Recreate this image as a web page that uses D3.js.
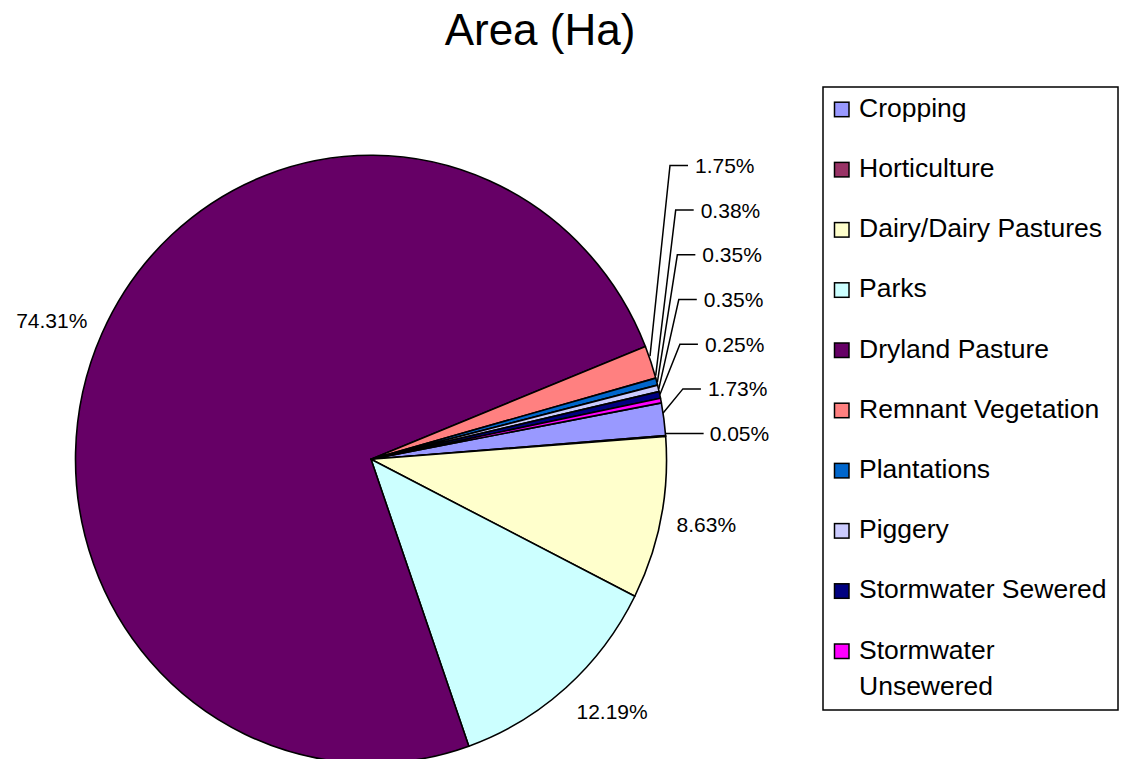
<!DOCTYPE html>
<html>
<head>
<meta charset="utf-8">
<script src="https://cdn.jsdelivr.net/npm/d3@7"></script>
<style>
  html, body { margin: 0; padding: 0; background: #fff; }
  svg { display: block; }
  text { font-family: "Liberation Sans", Arial, sans-serif; fill: #000; }
</style>
</head>
<body>
<svg id="chart" width="1128" height="759"></svg>
<script>
// ---- data ----
const title = "Area (Ha)";
const categories = ["Cropping", "Horticulture", "Dairy/Dairy Pastures", "Parks", "Dryland Pasture",
  "Remnant Vegetation", "Plantations", "Piggery", "Stormwater Sewered", "Stormwater Unsewered"];
const values = [1.73, 0.05, 8.63, 12.19, 74.31, 1.75, 0.38, 0.35, 0.35, 0.25];
const valueLabels = ["1.73%", "0.05%", "8.63%", "12.19%", "74.31%", "1.75%", "0.38%", "0.35%", "0.35%", "0.25%"];
const colors = ["#9999FF", "#993366", "#FFFFCC", "#CCFFFF", "#660066",
  "#FF8080", "#0066CC", "#CCCCFF", "#000080", "#FF00FF"];

// ---- layout ----
const W = 1128, H = 759;
const cx = 371, cy = 459.3, rx = 295.5, ry = 304;
const startDeg = 79.3;
const svg = d3.select("#chart");

svg.append("text")
  .attr("x", 540).attr("y", 45)
  .attr("text-anchor", "middle")
  .style("font-size", "44px")
  .text(title);

const pie = d3.pie().sort(null).value(d => d)
  .startAngle(startDeg * Math.PI / 180)
  .endAngle(startDeg * Math.PI / 180 + 2 * Math.PI);
const arcs = pie(values);
const arc = d3.arc().innerRadius(0).outerRadius(rx);

const pieG = svg.append("g")
  .attr("transform", `translate(${cx},${cy}) scale(1,${ry / rx})`);
pieG.selectAll("path").data(arcs).enter().append("path")
  .attr("d", arc)
  .attr("fill", (d, i) => colors[i])
  .attr("stroke", "#000")
  .attr("stroke-width", 1.6)
  .attr("stroke-linejoin", "round")
  .attr("vector-effect", "non-scaling-stroke");

function edgePoint(a, off) {
  return [cx + (rx + off) * Math.sin(a), cy - (ry + off) * Math.cos(a)];
}

const labelFont = 21;
const labelG = svg.append("g").style("font-size", labelFont + "px");

// large slices: labels outside, no leader
arcs.forEach((d, i) => {
  if (values[i] < 2) return;
  const a = (d.startAngle + d.endAngle) / 2;
  const p = edgePoint(a, 16);
  const t = labelG.append("text").text(valueLabels[i]);
  const w = t.node().getComputedTextLength();
  const h = 16;
  const ccx = p[0] + (w / 2) * Math.sign(Math.sin(a));
  const ccy = p[1] - h * Math.cos(a);
  t.attr("x", ccx).attr("y", ccy + 7.5).attr("text-anchor", "middle");
});

// small slices: stacked labels with leader lines
const small = arcs.map((d, i) => ({ d, i, a: (d.startAngle + d.endAngle) / 2 }))
  .filter(o => values[o.i] < 2)
  .map(o => ({ ...o, p: edgePoint(o.a, 0) }))
  .sort((u, v) => u.p[1] - v.p[1]);
const gap = 44.7;
const n = small.length;
const lastY = small[n - 1].p[1] - 2.5;
small.forEach((o, k) => {
  const ly = lastY - (n - 1 - k) * gap;
  const ex = o.p[0] + 20;
  const pts = (k === n - 1)
    ? [[o.p[0], ly], [ex + 18, ly]]
    : [[o.p[0] - 1, o.p[1] - 6], [ex - 1, ly], [ex + 17, ly]];
  svg.append("path")
    .attr("d", d3.line()(pts))
    .attr("fill", "none")
    .attr("stroke", "#000")
    .attr("stroke-width", 1.5);
  labelG.append("text")
    .attr("x", ex + 24).attr("y", ly + 7.5)
    .text(valueLabels[o.i]);
});

// ---- legend ----
const lg = svg.append("g");
lg.append("rect")
  .attr("x", 823).attr("y", 87)
  .attr("width", 295).attr("height", 623)
  .attr("fill", "#fff").attr("stroke", "#000").attr("stroke-width", 1.5);
const legFont = 26.5;
const textX = 859, maxW = 254;
categories.forEach((c, i) => {
  const by = 116.7 + 60.2 * i;
  lg.append("rect")
    .attr("x", 834.5).attr("y", by - 14.5)
    .attr("width", 14.5).attr("height", 14.5)
    .attr("fill", colors[i]).attr("stroke", "#000").attr("stroke-width", 1.5);
  const t = lg.append("text").attr("x", textX).attr("y", by).style("font-size", legFont + "px").text(c);
  if (t.node().getComputedTextLength() > maxW) {
    const words = c.split(" ");
    t.text(null);
    let line = [], lineNo = 0;
    let ts = t.append("tspan").attr("x", textX).attr("y", by);
    words.forEach(wd => {
      line.push(wd);
      ts.text(line.join(" "));
      if (ts.node().getComputedTextLength() > maxW && line.length > 1) {
        line.pop();
        ts.text(line.join(" "));
        line = [wd];
        lineNo++;
        ts = t.append("tspan").attr("x", textX).attr("y", by + lineNo * 36).text(wd);
      }
    });
  }
});
</script>
</body>
</html>
